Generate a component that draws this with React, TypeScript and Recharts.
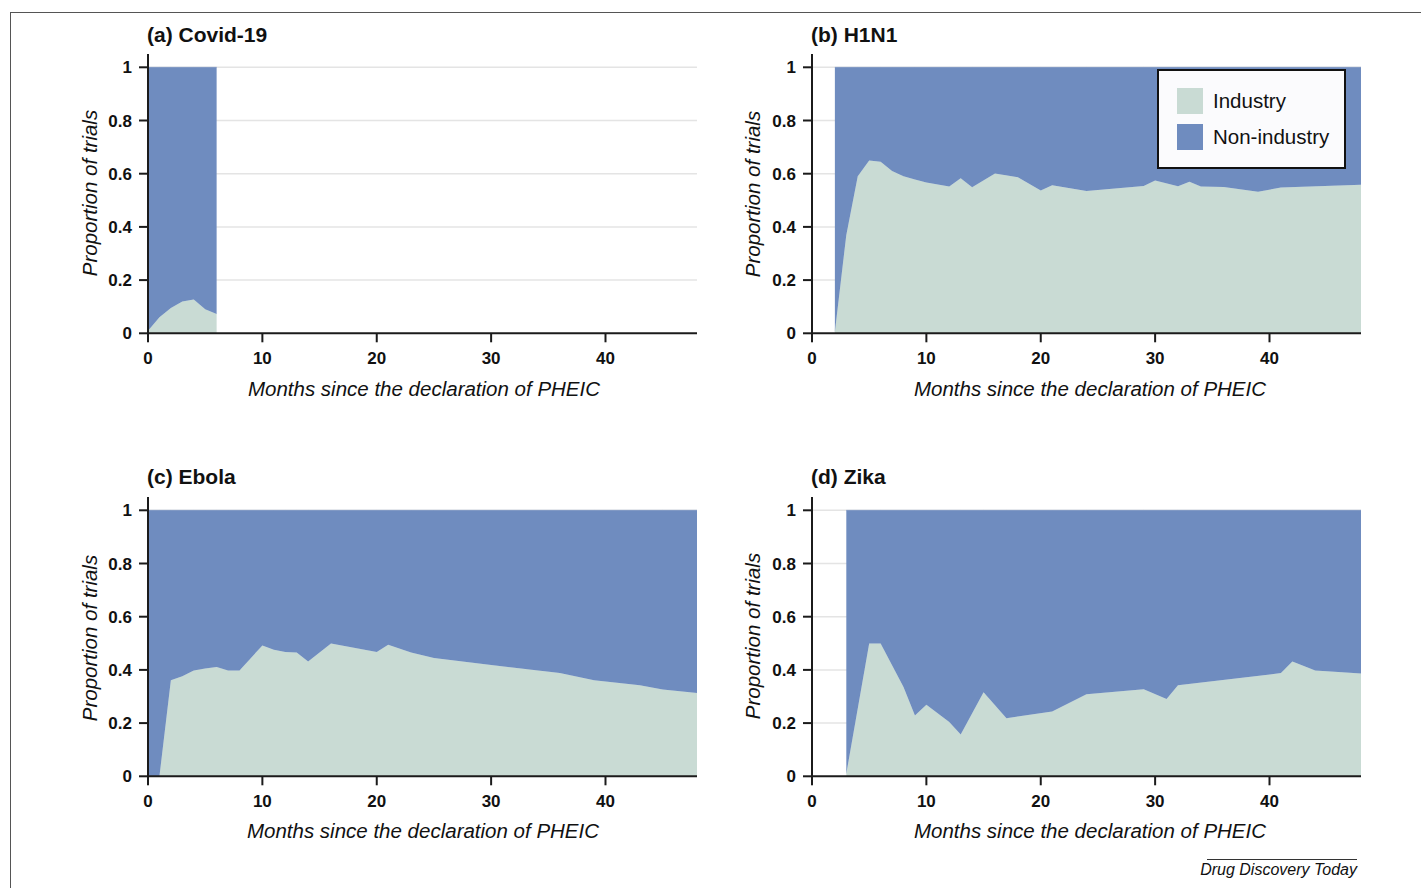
import { AreaChart, Area, XAxis, YAxis, CartesianGrid, Legend } from 'recharts';

const INDUSTRY = '#c9dbd4';
const NON_INDUSTRY = '#6f8cbf';
const AXIS = '#1b1b1b';
const FONT = '"Liberation Sans", Arial, Helvetica, sans-serif';

// months since PHEIC and the industry share of trials
const covidMonths = [0, 1, 2, 3, 4, 5, 6];
const covidIndustry = [0.01, 0.06, 0.095, 0.12, 0.127, 0.09, 0.073];

const h1n1Months = [2, 3, 4, 5, 6, 7, 8, 9, 10, 12, 13, 14, 16, 18, 20, 21, 24, 29, 30, 32, 33, 34, 36, 39, 41, 48];
const h1n1Industry = [
  0.005, 0.37, 0.59, 0.65, 0.645, 0.61, 0.59, 0.578, 0.567, 0.552, 0.583, 0.549, 0.601, 0.587,
  0.537, 0.557, 0.535, 0.554, 0.574, 0.553, 0.57, 0.552, 0.55, 0.532, 0.548, 0.558,
];

const ebolaMonths = [0, 1, 2, 3, 4, 5, 6, 7, 8, 10, 11, 12, 13, 14, 16, 20, 21, 23, 25, 30, 36, 39, 43, 45, 48];
const ebolaIndustry = [
  0, 0, 0.361, 0.376, 0.398, 0.405, 0.411, 0.398, 0.398, 0.492, 0.476, 0.467, 0.465, 0.432,
  0.499, 0.467, 0.495, 0.465, 0.445, 0.418, 0.388, 0.361, 0.342, 0.326, 0.313,
];

const zikaMonths = [3, 5, 6, 8, 9, 10, 12, 13, 15, 16, 17, 21, 24, 29, 31, 32, 41, 42, 44, 48];
const zikaIndustry = [
  0.01, 0.499, 0.499, 0.336, 0.229, 0.269, 0.204, 0.157, 0.316, 0.267, 0.218, 0.244, 0.308,
  0.327, 0.291, 0.342, 0.388, 0.432, 0.398, 0.386,
];

const monthTicks = [0, 10, 20, 30, 40];
const shareTicks = [0, 0.2, 0.4, 0.6, 0.8, 1];
const gridValues = [0.2, 0.4, 0.6, 0.8, 1];

const UNIT = 266; // px for a share of 1
const TOP = 1.05; // axis runs a little past 1
const PLOT_W = 549;
const LEFT = 100;
const MARGIN = { top: 20, right: 20, bottom: 10, left: 40 };

function buildRows(months: number[], industry: number[]) {
  return months.map((month, i) => ({
    month,
    industry: industry[i],
    nonIndustry: +(1 - industry[i]).toFixed(4),
  }));
}

function LegendBox({ payload }: any) {
  return (
    <div
      style={{
        width: 185,
        height: 96,
        border: '2px solid #111',
        background: '#fbfbfd',
        position: 'relative',
        fontFamily: FONT,
      }}
    >
      {(payload || []).map((entry: any, i: number) => (
        <div key={entry.value} style={{ position: 'absolute', left: 18, top: 17 + i * 36, display: 'flex', alignItems: 'center' }}>
          <div style={{ width: 26, height: 26, background: entry.color }} />
          <span style={{ marginLeft: 10, fontSize: 20.5, color: '#111', lineHeight: 1 }}>{entry.value}</span>
        </div>
      ))}
    </div>
  );
}

interface PanelProps {
  rows: { month: number; industry: number; nonIndustry: number }[];
  plotLeft: number;
  zeroY: number;
  showLegend?: boolean;
}

function Panel({ rows, plotLeft, zeroY, showLegend }: PanelProps) {
  const plotH = UNIT * TOP;
  const width = LEFT + PLOT_W + MARGIN.right;
  const height = MARGIN.top + plotH + 40 + MARGIN.bottom;
  const tick = { fill: '#111', fontSize: 17, fontWeight: 700, fontFamily: FONT };
  return (
    <div style={{ position: 'absolute', left: plotLeft - LEFT, top: zeroY - plotH - MARGIN.top }}>
      <AreaChart width={width} height={height} data={rows} margin={MARGIN}>
        <CartesianGrid vertical={false} horizontalValues={gridValues} stroke="#e4e4e4" strokeWidth={1.5} />
        <XAxis
          dataKey="month"
          type="number"
          domain={[0, 48]}
          ticks={monthTicks}
          interval={0}
          allowDataOverflow
          height={40}
          tickSize={9}
          tickMargin={10}
          axisLine={{ stroke: AXIS, strokeWidth: 2 }}
          tickLine={{ stroke: AXIS, strokeWidth: 2 }}
          tick={tick}
        />
        <YAxis
          type="number"
          domain={[0, TOP]}
          ticks={shareTicks}
          interval={0}
          allowDataOverflow
          width={60}
          tickSize={9}
          tickMargin={7}
          axisLine={{ stroke: AXIS, strokeWidth: 2 }}
          tickLine={{ stroke: AXIS, strokeWidth: 2 }}
          tick={tick}
        />
        <Area
          type="linear"
          dataKey="industry"
          name="Industry"
          stackId="share"
          fill={INDUSTRY}
          stroke={INDUSTRY}
          strokeWidth={0.5}
          fillOpacity={1}
          isAnimationActive={false}
        />
        <Area
          type="linear"
          dataKey="nonIndustry"
          name="Non-industry"
          stackId="share"
          fill={NON_INDUSTRY}
          stroke={NON_INDUSTRY}
          strokeWidth={0.5}
          fillOpacity={1}
          isAnimationActive={false}
        />
        {showLegend && (
          <Legend
            layout="vertical"
            align="center"
            verticalAlign="middle"
            content={<LegendBox />}
            wrapperStyle={{ left: 1157 - (plotLeft - LEFT), top: 69 - (zeroY - plotH - MARGIN.top), width: 189, height: 100 }}
          />
        )}
      </AreaChart>
    </div>
  );
}

function Caption({ x, y, text, bold, italic, rotate }: { x: number; y: number; text: string; bold?: boolean; italic?: boolean; rotate?: boolean }) {
  const centered = !bold;
  return (
    <div
      style={{
        position: 'absolute',
        left: x,
        top: y,
        transform: rotate ? 'translate(-50%, -50%) rotate(-90deg)' : centered ? 'translate(-50%, -50%)' : 'translate(0, -50%)',
        fontFamily: FONT,
        fontSize: bold ? 21 : 20.5,
        fontWeight: bold ? 700 : 400,
        fontStyle: italic ? 'italic' : 'normal',
        color: '#111',
        whiteSpace: 'nowrap',
        lineHeight: 1,
      }}
    >
      {text}
    </div>
  );
}

const xTitle = 'Months since the declaration of PHEIC';
const yTitle = 'Proportion of trials';

export default function App() {
  return (
    <div style={{ position: 'absolute', left: 0, top: 0, width: 1421, height: 888, background: '#fff', overflow: 'hidden' }}>
      <div style={{ position: 'absolute', left: 10, top: 12, width: 1420, height: 880, borderTop: '1.5px solid #555', borderLeft: '1.5px solid #555' }} />

      <Panel rows={buildRows(covidMonths, covidIndustry)} plotLeft={148} zeroY={333} />
      <Panel rows={buildRows(h1n1Months, h1n1Industry)} plotLeft={812} zeroY={333} showLegend />
      <Panel rows={buildRows(ebolaMonths, ebolaIndustry)} plotLeft={148} zeroY={776} />
      <Panel rows={buildRows(zikaMonths, zikaIndustry)} plotLeft={812} zeroY={776} />

      <Caption x={147} y={34} text="(a) Covid-19" bold />
      <Caption x={811} y={34} text="(b) H1N1" bold />
      <Caption x={147} y={476} text="(c) Ebola" bold />
      <Caption x={811} y={476} text="(d) Zika" bold />

      <Caption x={90} y={193} text={yTitle} italic rotate />
      <Caption x={753} y={194} text={yTitle} italic rotate />
      <Caption x={90} y={638} text={yTitle} italic rotate />
      <Caption x={753} y={636} text={yTitle} italic rotate />

      <Caption x={424} y={389} text={xTitle} italic />
      <Caption x={1090} y={389} text={xTitle} italic />
      <Caption x={423} y={831} text={xTitle} italic />
      <Caption x={1090} y={831} text={xTitle} italic />

      <div style={{ position: 'absolute', left: 1207, top: 859, width: 150, borderTop: '1px solid #333' }} />
      <div
        style={{
          position: 'absolute',
          right: 1421 - 1357,
          top: 862,
          fontFamily: FONT,
          fontSize: 16,
          fontStyle: 'italic',
          color: '#111',
          lineHeight: 1,
          whiteSpace: 'nowrap',
        }}
      >
        Drug Discovery Today
      </div>
    </div>
  );
}
